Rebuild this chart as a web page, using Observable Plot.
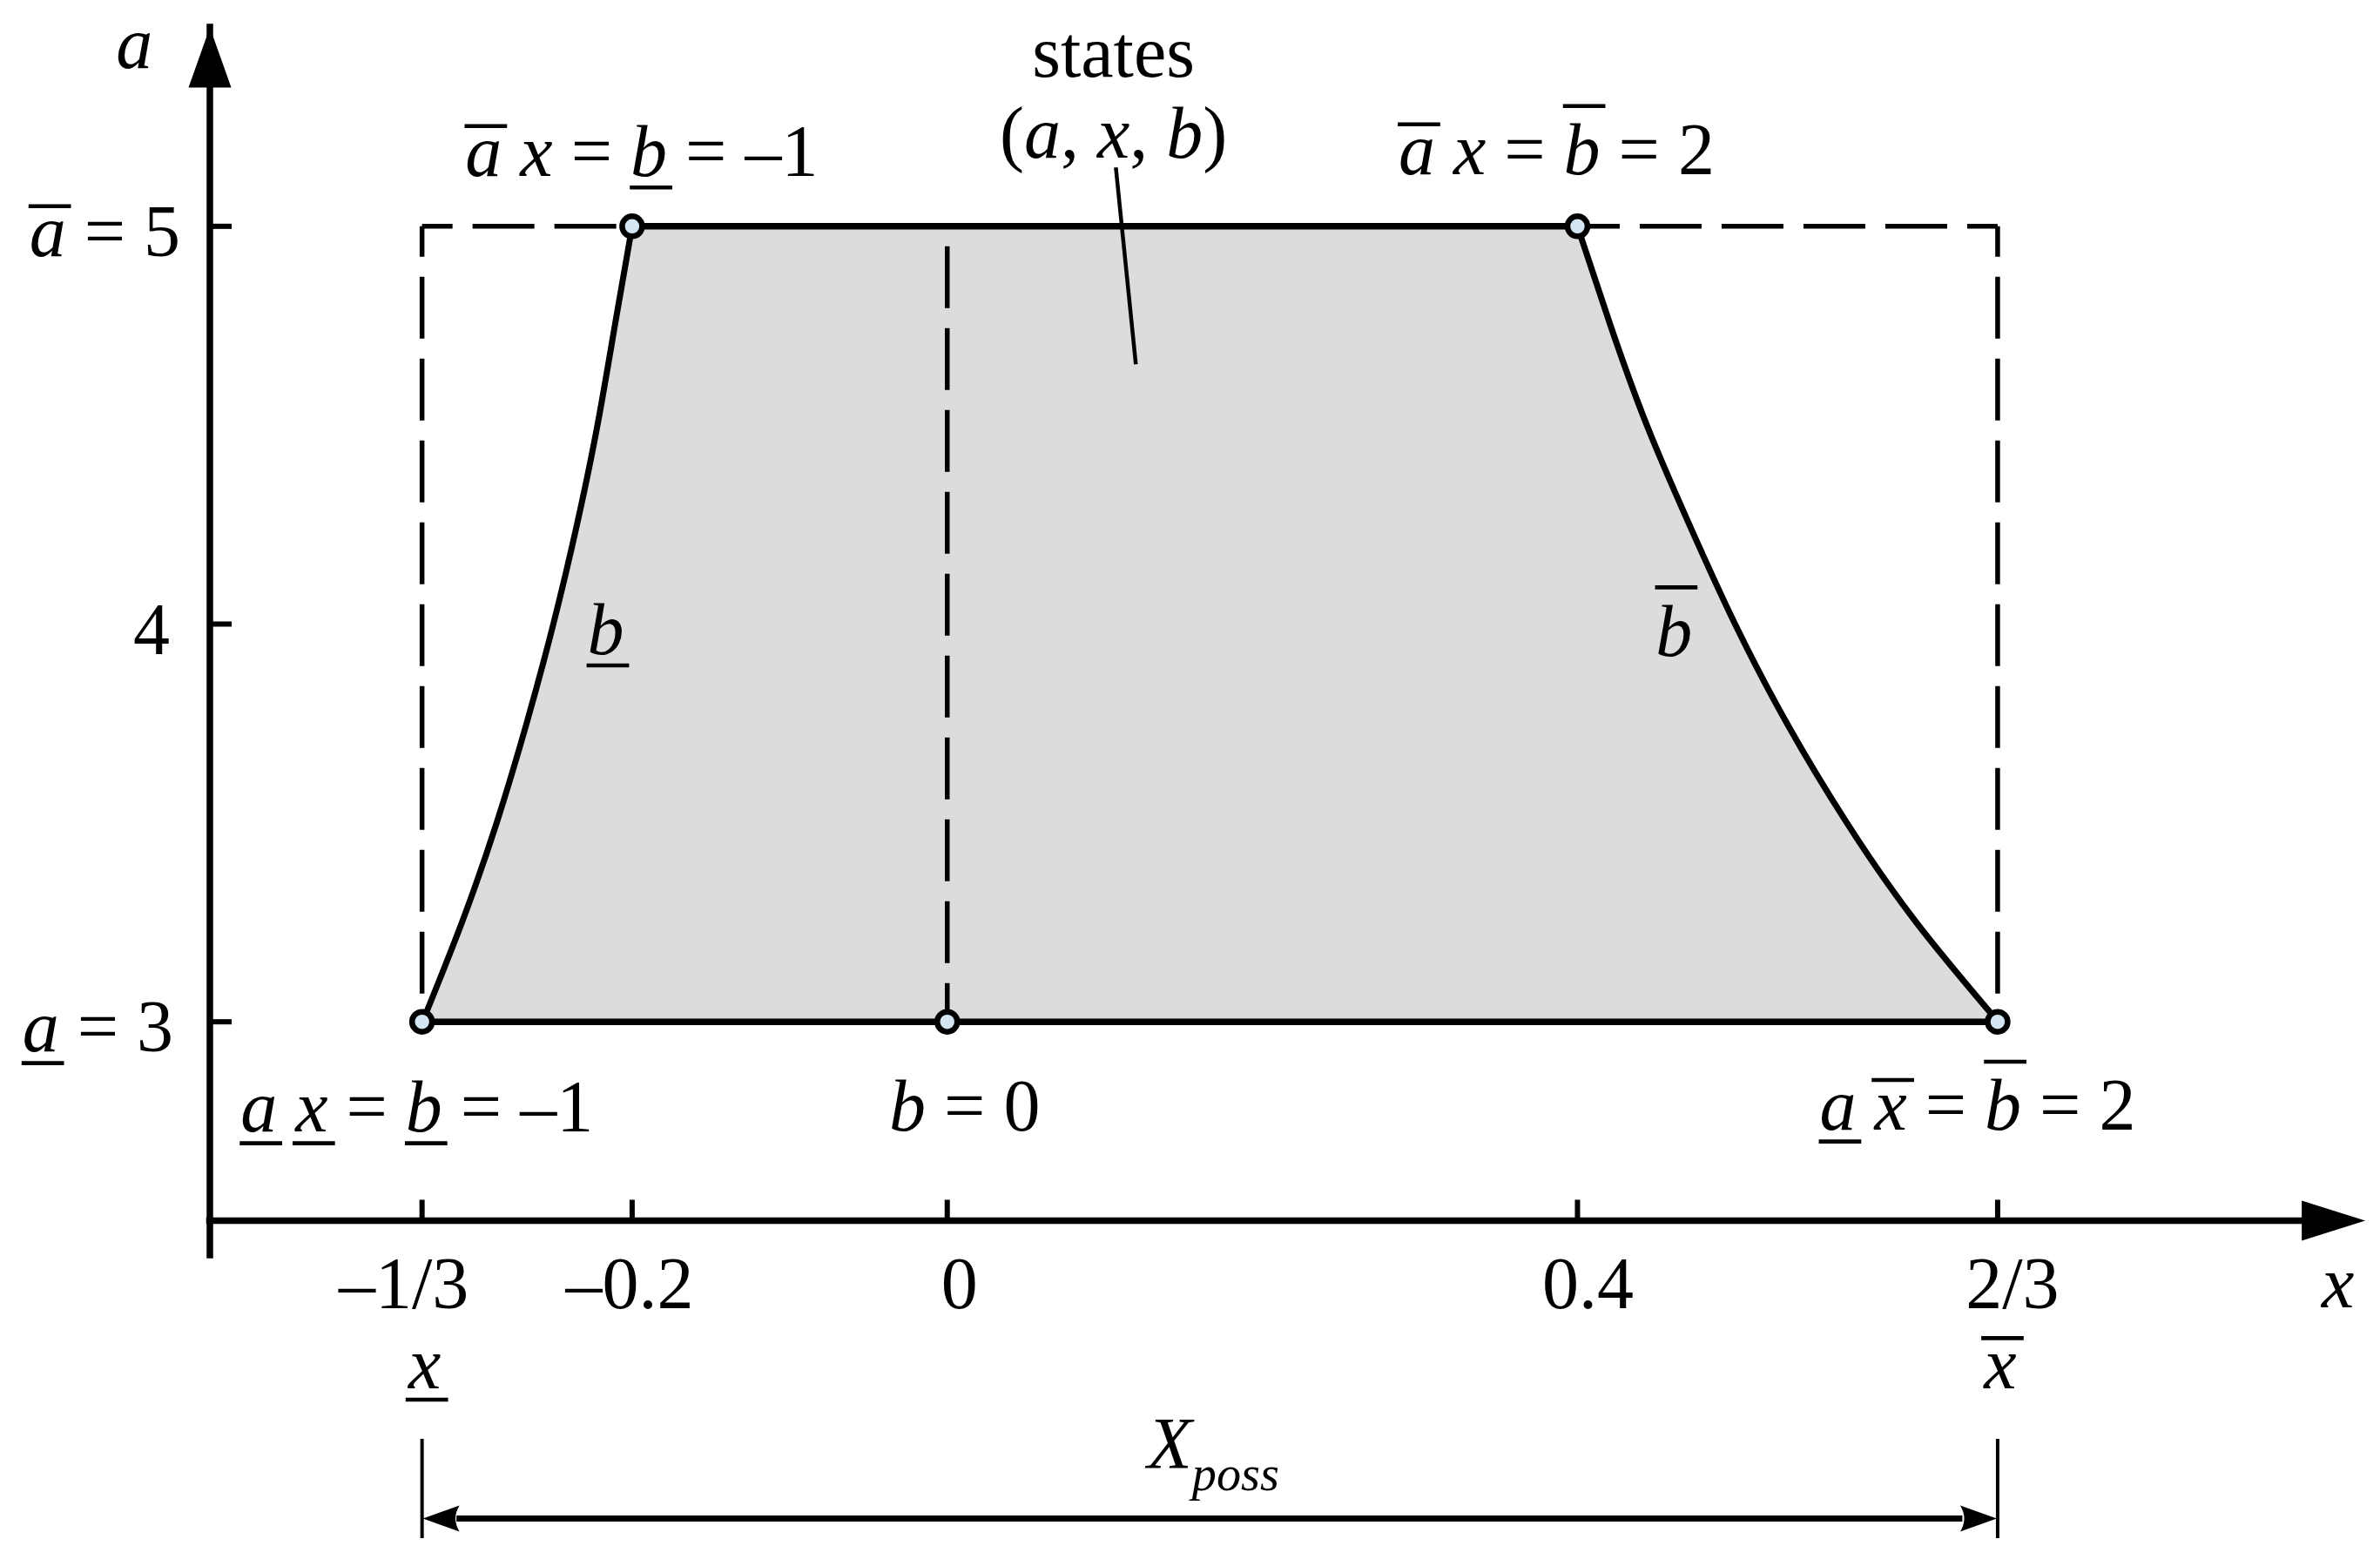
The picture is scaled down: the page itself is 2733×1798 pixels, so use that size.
<!DOCTYPE html>
<html>
<head>
<meta charset="utf-8">
<script src="https://cdn.jsdelivr.net/npm/d3@7"></script>
<script src="https://cdn.jsdelivr.net/npm/@observablehq/plot@0.6"></script>
<style>
  html, body { margin: 0; padding: 0; background: #fff; overflow: hidden; }
</style>
</head>
<body>
<div id="chart"></div>
<script>
// ---------- data ----------
// axis extents
const xMin = -0.468, xMax = 0.9;
const yMin = 2.5, yMax = 5.5;

// tick values and labels
const xTicks = [-1/3, -0.2, 0, 0.4, 2/3];
const xTickLabels = ["–1/3", "–0.2", "0", "0.4", "2/3"];
const yTicks = [3, 4, 5];
const yTickLabels = ["*a\u0332* = 3", "4", "*a\u0305* = 5"];

// bounds of x (X_poss)
const xBounds = [-1/3, 2/3];
const xBoundLabels = ["*x\u0332*", "*x\u0305*"];
const aLow = 3, aHigh = 5;

// boundary curves of the state region (b = -1 on the left, b = 2 on the right)
const aSamples = [3, 3.25, 3.5, 3.75, 4, 4.25, 4.5, 4.75, 5];
const leftX  = [-0.333, -0.308, -0.286, -0.267, -0.25, -0.235, -0.222, -0.211, -0.2];
const rightX = [0.667, 0.615, 0.571, 0.533, 0.5, 0.471, 0.444, 0.421, 0.4];

// marked states (circles) and their labels
const pointX = [-0.2, 0.4, -1/3, 0, 2/3];
const pointA = [5, 5, 3, 3, 3];
const pointLabels = [
  "*a\u0305* *x* = *b\u0332* = –1",
  "*a\u0305* *x* = *b\u0305* = 2",
  "*a\u0332* *x\u0332* = *b\u0332* = –1",
  "*b* = 0",
  "*a\u0332* *x\u0305* = *b\u0305* = 2"
];

// b = 0 dashed line top
const b0Top = 4.95;

// other texts
const curveLabels = ["*b\u0332*", "*b\u0305*"];
const statesLines = ["states", "(*a*, *x*, *b*)"];
const axisLabels = ["*a*", "*x*"];
const possLabel = "*X*[*poss*]";

// ---------- helpers ----------
const FONT = "'Liberation Serif', 'Times New Roman', Times, serif";
const FS = 84;
const region = aSamples.map((a, i) => ({a, left: leftX[i], right: rightX[i]}));
const pts = pointX.map((x, i) => ({x, a: pointA[i], label: pointLabels[i]}));

const arrowSym = (L, W) => ({draw(ctx) { ctx.moveTo(0, 0); ctx.lineTo(W / 2, L); ctx.lineTo(-W / 2, L); ctx.closePath(); }});
const concaveSym = (L, W, n) => ({draw(ctx) { ctx.moveTo(0, 0); ctx.lineTo(W / 2, L); ctx.quadraticCurveTo(0, L * n, -W / 2, L); ctx.closePath(); }});
const tickUp = (len) => ({draw(ctx) { ctx.moveTo(0, 0); ctx.lineTo(0, -len); }});
const tickRight = (len) => ({draw(ctx) { ctx.moveTo(0, 0); ctx.lineTo(len, 0); }});

const dashed = (p, offset) => Plot.line(p, {
  x: d => d[0], y: d => d[1], stroke: "black", strokeWidth: 5.5,
  strokeDasharray: "71,23", strokeDashoffset: offset, strokeLinecap: "butt", strokeLinejoin: "miter"
});
const solid = (p, w) => Plot.line(p, {x: d => d[0], y: d => d[1], stroke: "black", strokeWidth: w, strokeLinecap: "butt"});
const label = (data, opts) => Plot.text(data, {fontFamily: FONT, fontSize: FS, lineAnchor: "bottom", fill: "black", ...opts});

// per-label layout offsets (pixels)
const yTickDx = [-42, -46, -34];
const xTickDx = [-21, -3, 14, 12, 17];
const pointDx = [11, -24, -6, 20, -23];
const pointDy = [-58, -60, 126, 125, 124];

const marks = [
  // shaded state region
  Plot.areaX(region, {y: "a", x1: "left", x2: "right", curve: "natural", fill: "#dcdcdc"}),
  // dashed rectangle and b = 0 line
  dashed([[xBounds[0], aHigh], [pointX[0], aHigh]], 36),
  dashed([[xBounds[0], aHigh], [xBounds[0], aLow]], 36),
  dashed([[xBounds[1], aHigh], [pointX[1], aHigh]], 36),
  dashed([[xBounds[1], aHigh], [xBounds[1], aLow]], 36),
  dashed([[0, b0Top], [0, aLow]], 0),
  // solid boundaries
  solid([[pointX[0], aHigh], [pointX[1], aHigh]], 7.5),
  solid([[xBounds[0], aLow], [xBounds[1], aLow]], 7.5),
  Plot.line(region, {x: "left", y: "a", curve: "natural", stroke: "black", strokeWidth: 7}),
  Plot.line(region, {x: "right", y: "a", curve: "natural", stroke: "black", strokeWidth: 7}),
  // leader line from "(a, x, b)"
  Plot.link([0], {x1: 0.107, y1: 5.148, x2: 0.1197, y2: 4.653, stroke: "black", strokeWidth: 4.5}),
  // marked states
  Plot.dot(pts, {x: "x", y: "a", r: 11.5, fill: "#d4e6f2", stroke: "black", strokeWidth: 6.5}),
  // axes
  Plot.ruleX([xMin], {y1: yMin, y2: yMax, insetTop: 40, stroke: "black", strokeWidth: 7.5, strokeLinecap: "square"}),
  Plot.ruleY([yMin], {x1: xMin, x2: xMax, insetRight: 40, stroke: "black", strokeWidth: 7.5, strokeLinecap: "square"}),
  Plot.dot([0], {x: xMin, y: yMax, symbol: arrowSym(69, 49), fill: "black", stroke: "none"}),
  Plot.dot([0], {x: xMax, y: yMin, symbol: arrowSym(73, 46), rotate: 90, fill: "black", stroke: "none"}),
  Plot.dot(xTicks, {x: d => d, y: yMin, symbol: tickUp(24), fill: "none", stroke: "black", strokeWidth: 6}),
  Plot.dot(yTicks, {x: xMin, y: d => d, symbol: tickRight(25), fill: "none", stroke: "black", strokeWidth: 6}),
  // y tick labels
  ...yTicks.map((v, i) => label([v], {x: xMin, y: d => d, text: () => yTickLabels[i], textAnchor: "end", dx: yTickDx[i], dy: 34})),
  // x tick labels
  ...xTicks.map((v, i) => label([v], {x: d => d, y: yMin, text: () => xTickLabels[i], textAnchor: "middle", dx: xTickDx[i], dy: 100})),
  // x bounds labels
  label(xBounds, {x: d => d, y: yMin, text: (d, i) => xBoundLabels[i], textAnchor: "middle", dx: 3, dy: 192}),
  // axis names
  label([0], {x: -0.516, y: yMax, text: () => axisLabels[0], textAnchor: "middle", dy: 46}),
  label([0], {x: 0.8826, y: yMin, text: () => axisLabels[1], textAnchor: "middle", dy: 99}),
  // point labels
  ...pts.map((p, i) => label([p], {x: "x", y: "a", text: "label", textAnchor: "middle", dx: pointDx[i], dy: pointDy[i]})),
  // curve labels
  label([0], {x: -0.2168, y: 4, text: () => curveLabels[0], textAnchor: "middle", dy: 34}),
  label([0], {x: 0.4613, y: 4, text: () => curveLabels[1], textAnchor: "middle", dy: 36}),
  // states (a, x, b)
  label([0], {x: 0.1055, y: 5.3752, text: () => statesLines[0], textAnchor: "middle"}),
  label([0], {x: 0.1055, y: 5.1737, text: () => statesLines[1], textAnchor: "middle"}),
  // X_poss span
  Plot.ruleX(xBounds, {y1: 1.7007, y2: 1.9504, stroke: "black", strokeWidth: 4}),
  Plot.ruleY([1.751], {x1: xBounds[0], x2: xBounds[1], insetLeft: 40, insetRight: 40, stroke: "black", strokeWidth: 7}),
  Plot.dot([xBounds[0]], {x: d => d, y: 1.751, symbol: concaveSym(42, 30, 0.78), rotate: -90, fill: "black", stroke: "none", dx: 1}),
  Plot.dot([xBounds[1]], {x: d => d, y: 1.751, symbol: concaveSym(42, 30, 0.78), rotate: 90, fill: "black", stroke: "none", dx: -1}),
  label([0], {x: 0.127, y: yMin, text: () => possLabel, textAnchor: "start", dy: 284})
];

const svg = Plot.plot({
  width: 2733,
  height: 1798,
  marginLeft: 240.5,
  marginRight: 17.4,
  marginTop: 31,
  marginBottom: 397,
  x: {domain: [xMin, xMax], axis: null},
  y: {domain: [yMin, yMax], axis: null},
  style: {background: "white"},
  marks
});
document.getElementById("chart").appendChild(svg);

// ---------- math-style text: italics, subscripts, over/under bars ----------
function decorate(root) {
  const NS = "http://www.w3.org/2000/svg";
  const OVER = "\u0305", UNDER = "\u0332";
  for (const t of Array.from(root.querySelectorAll("text"))) {
    const raw = t.textContent;
    if (!/[*\[\]\u0305\u0332]/.test(raw)) continue;
    const fs = parseFloat(getComputedStyle(t).fontSize) || FS;
    const chars = [];
    let italic = false, sub = false;
    for (const ch of raw) {
      if (ch === "*") { italic = !italic; continue; }
      if (ch === "[") { sub = true; continue; }
      if (ch === "]") { sub = false; continue; }
      if (ch === OVER || ch === UNDER) {
        if (chars.length) chars[chars.length - 1].bar = ch === OVER ? "over" : "under";
        continue;
      }
      chars.push({ch, italic, sub, bar: null});
    }
    const runs = [];
    for (const c of chars) {
      const last = runs[runs.length - 1];
      if (last && !last.bar && !c.bar && last.italic === c.italic && last.sub === c.sub) last.text += c.ch;
      else runs.push({text: c.ch, italic: c.italic, sub: c.sub, bar: c.bar});
    }
    t.textContent = "";
    let inSub = false;
    for (const r of runs) {
      const s = document.createElementNS(NS, "tspan");
      s.textContent = r.text;
      if (r.italic) s.setAttribute("font-style", "italic");
      if (r.sub) s.setAttribute("font-size", 0.67 * fs);
      if (r.sub && !inSub) { s.setAttribute("dy", 0.3 * fs); inSub = true; }
      else if (!r.sub && inSub) { s.setAttribute("dy", -0.3 * fs); inSub = false; }
      t.appendChild(s);
      r.el = s;
    }
    for (const r of runs) {
      if (!r.bar) continue;
      const p0 = r.el.getStartPositionOfChar(0), p1 = r.el.getEndPositionOfChar(0);
      const cx = (p0.x + p1.x) / 2 + 0.03 * fs;
      const tall = /[A-Zbdfhklt0-9]/.test(r.text);
      const y = r.bar === "over" ? p0.y - (tall ? 0.93 : 0.68) * fs : p0.y + 0.16 * fs;
      const line = document.createElementNS(NS, "line");
      line.setAttribute("x1", cx - 0.29 * fs);
      line.setAttribute("x2", cx + 0.29 * fs);
      line.setAttribute("y1", y);
      line.setAttribute("y2", y);
      line.setAttribute("stroke", "black");
      line.setAttribute("stroke-width", 0.055 * fs);
      const tr = t.getAttribute("transform");
      if (tr) line.setAttribute("transform", tr);
      t.parentNode.appendChild(line);
    }
  }
}
decorate(svg);
</script>
</body>
</html>
